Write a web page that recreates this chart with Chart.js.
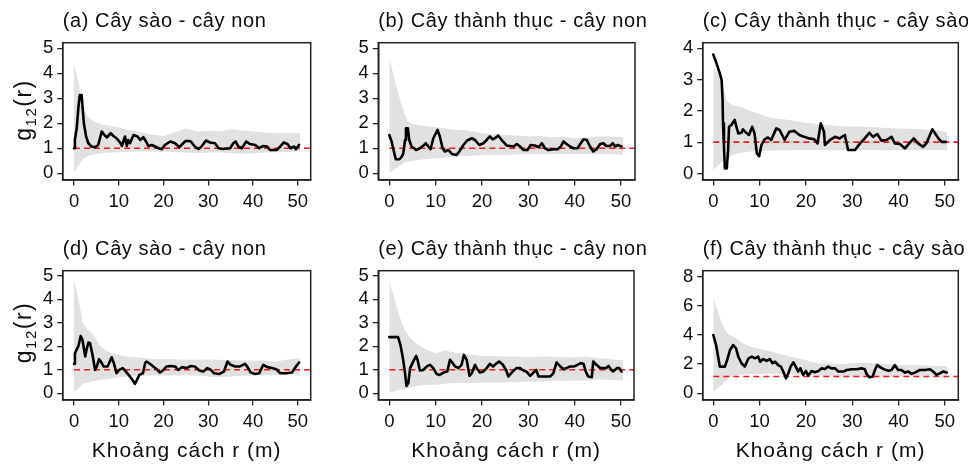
<!DOCTYPE html>
<html lang="vi">
<head>
  <meta charset="UTF-8">
  <title>g12(r) - hàm tương quan cặp</title>
  <script src="https://cdn.jsdelivr.net/npm/chart.js"></script>
  <style>
    body {
      margin: 0;
      background: #fff;
      width: 968px;
      height: 467px;
      position: relative;
      overflow: hidden;
    }
    canvas {
      position: absolute;
    }
  </style>
</head>
<body>
  <canvas id="pa" width="320" height="234" style="left:0;top:0"></canvas>
  <canvas id="pb" width="330" height="234" style="left:320px;top:0"></canvas>
  <canvas id="pc" width="328" height="234" style="left:640px;top:0"></canvas>
  <canvas id="pd" width="320" height="233" style="left:0;top:234px"></canvas>
  <canvas id="pe" width="330" height="233" style="left:320px;top:234px"></canvas>
  <canvas id="pf" width="328" height="233" style="left:640px;top:234px"></canvas>

  <script>
    // tick labels
    const xTicks = [0, 10, 20, 30, 40, 50];
    const yTicks5 = [0, 1, 2, 3, 4, 5];
    const yTicks4 = [0, 1, 2, 3, 4];
    const yTicks8 = [0, 2, 4, 6, 8];

    // envelope distances (m), shared by all panels
    const envR = [0, 1, 2, 3, 4, 5, 6, 8, 10, 12, 14, 16, 18, 20, 22.5, 25, 27.5, 30, 32.5, 35, 37.5, 40, 42.5, 45, 47.5, 50.5];

    // (a) Cây sào - cây non
    const rA = [0, 0.2, 0.6, 1.0, 1.3, 1.7, 1.9, 2.2, 2.7, 3.2, 3.9, 4.7, 5.4, 6.2, 6.8, 7.3, 8.2, 8.8, 9.5, 10.3,
      10.7, 11.4, 11.8, 12.1, 12.5, 13.3, 14.2, 14.8, 15.5, 16.1, 16.6, 17.4, 18.1, 18.9, 19.6, 20.3, 21.5, 22.6, 23.5, 24.8,
      25.3, 26.1, 27.0, 27.8, 28.5, 29.5, 30.4, 31.5, 32.3, 33.4, 34.9, 35.6, 36.1, 36.7, 37.5, 38.5, 39.3, 40.5, 41.4, 42.3,
      43.1, 43.8, 45.3, 46.1, 46.9, 47.7, 48.4, 49.2, 49.6, 50.3];
    const gA = [1.0, 1.35, 1.8, 2.67, 3.13, 3.13, 2.67, 2.0, 1.47, 1.2, 1.07, 1.04, 1.13, 1.67, 1.53, 1.43, 1.6, 1.49, 1.4, 1.23,
      1.09, 1.47, 1.09, 1.33, 1.2, 1.53, 1.47, 1.33, 1.44, 1.27, 1.09, 1.13, 1.07, 1.0, 0.96, 1.13, 1.27, 1.2, 1.04, 1.27,
      1.3, 1.27, 1.07, 0.97, 1.07, 1.31, 1.23, 1.2, 1.0, 0.97, 1.0, 1.2, 1.27, 1.07, 1.0, 1.27, 1.17, 1.13, 1.0, 1.09,
      1.07, 0.93, 0.93, 1.07, 1.23, 1.17, 1.0, 1.07, 0.96, 1.13];
    const hiA = [4.37, 3.6, 2.67, 2.27, 2.13, 2.03, 1.97, 1.89, 1.83, 1.73, 1.67, 1.6, 1.53, 1.49, 1.63, 1.8, 1.67, 1.71, 1.67, 1.76, 1.71, 1.67, 1.63, 1.6, 1.62, 1.6];
    const loA = [0.03, 0.33, 0.56, 0.67, 0.73, 0.77, 0.8, 0.83, 0.84, 0.85, 0.87, 0.87, 0.87, 0.87, 0.85, 0.83, 0.8, 0.83, 0.83, 0.8, 0.77, 0.8, 0.83, 0.84, 0.85, 0.87];

    // (b) Cây thành thục - cây non
    const rB = [0, 0.5, 1.0, 1.4, 2.2, 2.7, 3.0, 3.4, 3.6, 4.0, 4.3, 4.8, 5.8, 6.6, 7.5, 7.9, 8.4, 8.9, 9.5, 10.4,
      10.9, 11.5, 12.0, 12.7, 13.5, 14.5, 15.1, 16.0, 16.8, 17.8, 18.5, 19.4, 20.3, 21.0, 21.7, 22.3, 22.8, 23.5, 24.5, 25.3,
      26.8, 27.5, 28.2, 28.9, 29.8, 30.5, 31.4, 32.2, 32.9, 33.6, 34.3, 35.4, 36.3, 37.0, 37.6, 38.3, 39.0, 39.7, 40.6, 41.2,
      41.9, 42.6, 43.3, 44.0, 44.7, 45.5, 46.2, 46.8, 47.6, 48.2, 48.7, 49.3, 50.1];
    const gB = [1.53, 1.27, 0.87, 0.56, 0.56, 0.67, 0.77, 1.33, 1.8, 1.8, 1.33, 1.07, 0.93, 1.0, 1.13, 1.2, 1.07, 0.96, 1.4, 1.73,
      1.47, 1.0, 0.87, 0.93, 0.77, 0.73, 0.87, 1.13, 1.31, 1.4, 1.33, 1.13, 1.2, 1.33, 1.47, 1.36, 1.4, 1.51, 1.27, 1.11,
      1.07, 1.17, 1.07, 0.93, 0.93, 1.13, 1.11, 1.04, 1.2, 1.0, 0.93, 0.96, 0.96, 1.07, 1.27, 1.16, 1.07, 1.0, 1.0, 1.17,
      1.36, 1.33, 1.07, 0.87, 0.96, 1.17, 1.2, 1.09, 1.09, 1.2, 1.07, 1.13, 1.07];
    const hiB = [4.6, 3.87, 3.13, 2.53, 2.07, 1.97, 1.93, 1.89, 1.84, 1.8, 1.73, 1.73, 1.67, 1.6, 1.56, 1.53, 1.51, 1.47, 1.49, 1.44, 1.46, 1.4, 1.43, 1.47, 1.47, 1.44];
    const loB = [0.03, 0.13, 0.27, 0.4, 0.47, 0.49, 0.53, 0.57, 0.6, 0.63, 0.67, 0.69, 0.7, 0.72, 0.73, 0.73, 0.75, 0.76, 0.76, 0.77, 0.77, 0.77, 0.77, 0.76, 0.77, 0.73];

    // (c) Cây thành thục - cây sào
    const rC = [0, 0.7, 1.4, 1.8, 2.0, 2.1, 2.3, 2.5, 2.9, 3.2, 3.4, 3.9, 4.6, 5.0, 5.4, 6.1, 6.4, 7.1, 7.7, 8.4,
      8.9, 9.4, 9.9, 10.4, 11.1, 11.8, 12.5, 13.6, 14.3, 15.4, 16.4, 17.5, 18.6, 19.6, 20.7, 21.8, 22.5, 23.2, 23.9, 24.1,
      25.2, 26.3, 27.3, 28.4, 29.1, 30.6, 31.7, 32.7, 33.7, 34.5, 35.4, 36.3, 37.4, 38.5, 39.2, 40.3, 41.4, 42.3, 43.3, 44.2,
      45.3, 46.0, 47.3, 48.6, 49.3, 50.2];
    const gC = [3.8, 3.52, 3.2, 2.99, 2.35, 1.6, 0.86, 0.16, 0.16, 0.75, 1.49, 1.55, 1.71, 1.49, 1.28, 1.3, 1.41, 1.3, 1.23, 1.49,
      1.28, 0.64, 0.55, 0.91, 1.09, 1.15, 1.07, 1.44, 1.39, 1.07, 1.33, 1.36, 1.23, 1.17, 1.12, 1.09, 0.96, 1.6, 1.33, 0.91,
      1.07, 1.17, 1.12, 1.23, 0.75, 0.75, 0.96, 1.12, 1.3, 1.17, 1.26, 1.05, 1.07, 1.17, 0.96, 0.94, 0.8, 0.96, 1.12, 0.96,
      0.85, 0.96, 1.41, 1.12, 1.01, 1.01];
    const hiC = [3.4, 3.2, 2.85, 2.3, 2.2, 2.15, 2.13, 2.0, 1.9, 1.8, 1.75, 1.72, 1.66, 1.62, 1.58, 1.55, 1.51, 1.5, 1.49, 1.48, 1.45, 1.44, 1.43, 1.42, 1.38, 1.33];
    const loC = [0.1, 0.25, 0.4, 0.5, 0.58, 0.63, 0.66, 0.7, 0.72, 0.73, 0.74, 0.74, 0.75, 0.75, 0.75, 0.74, 0.74, 0.74, 0.75, 0.75, 0.74, 0.74, 0.74, 0.75, 0.75, 0.75];

    // (d) Cây sào - cây non
    const rD = [0, 0.2, 1.0, 1.5, 1.9, 2.5, 2.8, 3.2, 3.6, 4.2, 4.7, 5.1, 5.6, 6.0, 6.6, 7.5, 8.0, 8.4, 8.9, 9.5,
      10.1, 10.9, 11.6, 12.5, 13.3, 13.6, 14.0, 14.6, 15.4, 15.9, 16.2, 17.0, 17.7, 18.5, 19.2, 20.0, 20.7, 21.6, 22.6, 23.3,
      24.1, 25.2, 26.1, 27.0, 28.0, 28.9, 29.8, 30.6, 31.3, 32.5, 33.5, 34.3, 35.0, 36.0, 37.1, 38.2, 38.7, 39.5, 40.5, 41.4,
      42.3, 43.2, 44.2, 45.2, 46.1, 47.5, 48.7, 49.6, 50.3];
    const gD = [1.25, 1.7, 2.02, 2.44, 2.27, 1.56, 1.85, 2.16, 2.13, 1.56, 0.99, 1.14, 1.45, 1.35, 1.14, 1.14, 1.35, 1.53, 1.28, 0.85,
      0.99, 1.07, 0.92, 0.71, 0.5, 0.4, 0.54, 0.78, 0.85, 1.28, 1.35, 1.25, 1.14, 1.02, 0.88, 0.99, 1.14, 1.16, 1.14, 0.99,
      1.11, 1.07, 1.16, 1.14, 0.97, 0.92, 1.07, 0.99, 0.85, 0.82, 0.92, 1.35, 1.21, 1.14, 1.14, 1.25, 1.14, 0.88, 0.82, 0.85,
      1.21, 1.11, 1.07, 1.02, 0.85, 0.85, 0.88, 1.14, 1.31];
    const hiD = [4.9, 3.98, 2.98, 2.7, 2.55, 2.27, 1.99, 1.73, 1.63, 1.56, 1.53, 1.49, 1.45, 1.45, 1.45, 1.42, 1.42, 1.45, 1.42, 1.39, 1.39, 1.39, 1.39, 1.35, 1.42, 1.49];
    const loD = [0.03, 0.21, 0.4, 0.45, 0.5, 0.53, 0.57, 0.6, 0.68, 0.71, 0.74, 0.74, 0.75, 0.75, 0.75, 0.77, 0.75, 0.71, 0.68, 0.71, 0.74, 0.77, 0.78, 0.78, 0.81, 0.82];

    // (e) Cây thành thục - cây non
    const rE = [0, 1.9, 2.4, 3.0, 3.4, 3.7, 4.1, 4.5, 5.0, 5.8, 6.1, 6.6, 7.3, 8.1, 8.8, 9.5, 10.2, 10.9, 11.7, 12.5,
      13.1, 13.7, 14.2, 14.9, 15.6, 16.1, 16.7, 17.3, 17.8, 18.5, 19.0, 19.6, 20.3, 21.0, 21.7, 22.4, 23.0, 23.7, 24.5, 25.2,
      25.7, 26.6, 27.5, 28.2, 28.9, 29.6, 30.4, 31.1, 31.7, 32.2, 33.2, 34.7, 35.4, 36.1, 36.8, 37.6, 38.3, 39.0, 39.9, 40.6,
      41.3, 41.9, 42.4, 42.9, 43.7, 44.0, 44.7, 45.5, 46.8, 47.3, 47.8, 48.3, 49.1, 49.6, 50.1];
    const gE = [2.39, 2.39, 2.06, 1.42, 0.85, 0.31, 0.43, 1.07, 1.28, 1.59, 1.42, 0.97, 0.99, 1.14, 1.21, 1.07, 0.82, 0.78, 0.88, 0.92,
      1.42, 1.28, 1.14, 1.07, 1.21, 1.63, 1.42, 0.74, 0.85, 1.21, 1.02, 0.88, 0.92, 1.07, 1.25, 1.14, 1.25, 1.35, 1.21, 0.99,
      0.71, 0.92, 1.07, 1.07, 0.97, 0.92, 0.74, 0.88, 0.99, 0.71, 0.71, 0.71, 0.85, 1.31, 1.16, 1.02, 1.07, 1.14, 1.14, 1.21,
      1.28, 1.25, 0.92, 0.71, 0.68, 1.35, 1.21, 1.07, 1.07, 1.16, 1.02, 0.92, 1.07, 1.07, 0.92];
    const hiE = [4.72, 4.12, 3.41, 2.84, 2.49, 2.27, 2.1, 1.85, 1.7, 1.82, 1.73, 1.7, 1.63, 1.59, 1.59, 1.56, 1.56, 1.53, 1.56, 1.56, 1.53, 1.53, 1.56, 1.49, 1.45, 1.39];
    const loE = [0.03, 0.07, 0.14, 0.17, 0.21, 0.28, 0.31, 0.36, 0.36, 0.4, 0.43, 0.43, 0.43, 0.45, 0.45, 0.46, 0.47, 0.5, 0.5, 0.53, 0.53, 0.54, 0.54, 0.57, 0.57, 0.54];

    // (f) Cây thành thục - cây sào
    const rF = [0, 0.6, 1.1, 1.4, 2.5, 3.0, 3.6, 4.3, 4.9, 5.4, 6.1, 6.8, 7.6, 8.3, 9.0, 9.7, 10.1, 10.8, 11.5, 12.2,
      12.8, 13.3, 14.0, 14.6, 15.1, 15.7, 16.2, 16.7, 17.3, 17.8, 18.3, 18.8, 19.4, 20.0, 20.5, 21.2, 21.9, 22.7, 23.4, 24.1,
      24.8, 25.5, 26.3, 27.0, 28.1, 28.8, 29.9, 30.9, 32.0, 32.7, 33.1, 33.7, 34.4, 34.9, 35.4, 36.1, 36.8, 37.8, 38.5, 39.2,
      39.9, 40.6, 41.4, 42.1, 42.8, 43.5, 44.6, 45.7, 46.8, 47.5, 48.2, 48.9, 49.6, 50.4];
    const gF = [4.0, 3.31, 2.4, 1.83, 1.83, 2.29, 2.97, 3.31, 3.09, 2.51, 2.06, 1.83, 2.4, 2.51, 2.4, 2.51, 2.17, 2.35, 2.22, 2.35,
      2.06, 2.17, 1.94, 1.83, 1.49, 1.03, 1.37, 1.83, 2.13, 1.83, 1.49, 1.71, 1.26, 1.53, 1.21, 1.53, 1.44, 1.53, 1.71, 1.67,
      1.83, 1.71, 1.71, 1.49, 1.49, 1.6, 1.65, 1.65, 1.71, 1.65, 1.33, 1.1, 1.14, 1.6, 1.94, 1.78, 1.65, 1.55, 1.6, 1.94,
      1.6, 1.6, 1.42, 1.49, 1.33, 1.42, 1.6, 1.6, 1.65, 1.49, 1.26, 1.37, 1.49, 1.42];
    const hiF = [6.51, 5.6, 4.69, 4.11, 3.95, 3.77, 3.5, 3.2, 3.04, 2.9, 2.74, 2.58, 2.4, 2.29, 2.06, 2.06, 2.01, 2.06, 2.1, 2.06, 2.01, 1.94, 1.94, 1.94, 1.87, 1.87];
    const loF = [0.07, 0.34, 0.62, 0.98, 1.2, 1.25, 1.28, 1.3, 1.3, 1.3, 1.3, 1.3, 1.28, 1.25, 1.2, 1.2, 1.18, 1.16, 1.16, 1.15, 1.15, 1.16, 1.18, 1.2, 1.2, 1.2];

    // theoretical value (red dashed line)
    const refValue = [1, 1, 1, 1, 1, 1.15];

    const FONT = '"Liberation Sans", Arial, Helvetica, sans-serif';
    const INK = '#0d0d0d';

    // box around plot area + titles drawn at fixed spots
    const frameText = {
      id: 'frameText',
      afterDraw(chart, args, o) {
        const ctx = chart.ctx;
        const a = chart.chartArea;
        ctx.save();
        ctx.lineWidth = 1.5;
        ctx.strokeStyle = '#222';
        ctx.strokeRect(a.left, a.top, a.right - a.left, a.bottom - a.top);

        ctx.fillStyle = INK;
        ctx.textBaseline = 'alphabetic';
        ctx.letterSpacing = '0.6px';
        ctx.font = '20px ' + FONT;
        ctx.textAlign = 'left';
        ctx.fillText(o.title, a.left, o.titleY);

        if (o.xTitle) {
          ctx.letterSpacing = '1px';
          ctx.font = '21px ' + FONT;
          ctx.textAlign = 'center';
          ctx.fillText(o.xTitle, (a.left + a.right) / 2, o.xTitleY);
        }

        if (o.yTitle) {
          ctx.letterSpacing = '1.5px';
          ctx.translate(o.yTitleX, o.yTitleY);
          ctx.rotate(-Math.PI / 2);
          ctx.textAlign = 'left';
          const big = '23px ' + FONT, small = '15px ' + FONT;
          ctx.font = big;
          const wg = ctx.measureText('g').width;
          const wr = ctx.measureText('(r)').width;
          ctx.font = small;
          const ws = ctx.measureText('12').width;
          let x = -(wg + ws + wr) / 2;
          ctx.font = big;
          ctx.fillText('g', x, 0);
          x += wg;
          ctx.font = small;
          ctx.fillText('12', x, 5);
          x += ws;
          ctx.font = big;
          ctx.fillText('(r)', x, 0);
        }
        ctx.restore();
      }
    };

    const panels = [
      { id: 'pa', title: '(a) Cây sào - cây non', r: rA, g: gA, hi: hiA, lo: loA, ref: refValue[0], yTicks: yTicks5,
        yMin: -0.27, yMax: 5.22, xMin: -2.53, xMax: 52.9, padTop: 42.7, padRight: 9.3, yW: 62.7, xH: 54,
        titleY: 27.3, yTitle: true, yTitleX: 30.5, yTitleY: 110 },
      { id: 'pb', title: '(b) Cây thành thục - cây non', r: rB, g: gB, hi: hiB, lo: loB, ref: refValue[1], yTicks: yTicks5,
        yMin: -0.27, yMax: 5.22, xMin: -2.37, xMax: 53.0, padTop: 42.7, padRight: 15, yW: 58.3, xH: 54,
        titleY: 27.3 },
      { id: 'pc', title: '(c) Cây thành thục - cây sào', r: rC, g: gC, hi: hiC, lo: loC, ref: refValue[2], yTicks: yTicks4,
        yMin: -0.21, yMax: 4.18, xMin: -2.29, xMax: 52.9, padTop: 42.7, padRight: 9.7, yW: 62.7, xH: 54,
        titleY: 27.3 },
      { id: 'pd', title: '(d) Cây sào - cây non', r: rD, g: gD, hi: hiD, lo: loD, ref: refValue[3], yTicks: yTicks5,
        yMin: -0.29, yMax: 5.22, xMin: -2.53, xMax: 52.9, padTop: 36.7, padRight: 9.3, yW: 62.7, xH: 67,
        titleY: 21, yTitle: true, yTitleX: 30.5, yTitleY: 98.5, xTitle: 'Khoảng cách r (m)', xTitleY: 223.3 },
      { id: 'pe', title: '(e) Cây thành thục - cây non', r: rE, g: gE, hi: hiE, lo: loE, ref: refValue[4], yTicks: yTicks5,
        yMin: -0.29, yMax: 5.22, xMin: -2.37, xMax: 52.8, padTop: 36.7, padRight: 16, yW: 58.3, xH: 67,
        titleY: 21, xTitle: 'Khoảng cách r (m)', xTitleY: 223.3 },
      { id: 'pf', title: '(f) Cây thành thục - cây sào', r: rF, g: gF, hi: hiF, lo: loF, ref: refValue[5], yTicks: yTicks8,
        yMin: -0.46, yMax: 8.41, xMin: -2.29, xMax: 52.9, padTop: 36.7, padRight: 9.7, yW: 62.7, xH: 67,
        titleY: 21, xTitle: 'Khoảng cách r (m)', xTitleY: 223.3 }
    ];

    function pts(xs, ys) {
      return xs.map((x, i) => ({ x: x, y: ys[i] }));
    }

    function axisStyle() {
      return {
        grid: { drawOnChartArea: false, drawTicks: true, tickLength: 5.5, color: '#222', lineWidth: 1.3 },
        border: { display: true, color: '#222', width: 1.5 },
        ticks: { color: INK, font: { family: FONT, size: 18.5 }, maxRotation: 0, autoSkip: false }
      };
    }

    function makeChart(p) {
      const xs = axisStyle();
      const ys = axisStyle();
      xs.ticks.padding = 5;
      ys.ticks.padding = 4;
      new Chart(document.getElementById(p.id), {
        type: 'line',
        data: {
          datasets: [
            { data: pts(p.r, p.g), borderColor: '#000', borderWidth: 2.6, pointRadius: 0, tension: 0,
              borderJoinStyle: 'round', borderCapStyle: 'round', fill: false },
            { data: pts([0, p.xMax], [p.ref, p.ref]), borderColor: '#f01c1c', borderWidth: 1.6, borderDash: [6, 4],
              pointRadius: 0, fill: false },
            { data: pts(envR, p.lo), borderColor: 'rgba(0,0,0,0)', borderWidth: 0, pointRadius: 0, fill: false },
            { data: pts(envR, p.hi), borderColor: 'rgba(0,0,0,0)', borderWidth: 0, pointRadius: 0,
              backgroundColor: '#e1e1e1', fill: '-1' }
          ]
        },
        options: {
          responsive: false,
          animation: false,
          events: [],
          layout: { padding: { top: p.padTop, right: p.padRight, left: 0, bottom: 0 } },
          scales: {
            x: Object.assign(xs, {
              type: 'linear', min: p.xMin, max: p.xMax,
              afterBuildTicks: s => { s.ticks = xTicks.map(v => ({ value: v })); },
              afterFit: s => { s.height = p.xH; }
            }),
            y: Object.assign(ys, {
              type: 'linear', min: p.yMin, max: p.yMax,
              afterBuildTicks: s => { s.ticks = p.yTicks.map(v => ({ value: v })); },
              afterFit: s => { s.width = p.yW; }
            })
          },
          plugins: {
            legend: { display: false },
            tooltip: { enabled: false },
            frameText: p
          }
        },
        plugins: [frameText]
      });
    }

    panels.forEach(makeChart);
  </script>
</body>
</html>
